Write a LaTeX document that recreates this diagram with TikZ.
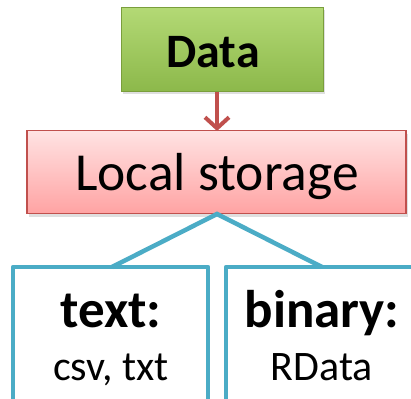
\documentclass[tikz,border=0pt]{standalone}
\usepackage{fontspec}
\setmainfont{Carlito}
\usetikzlibrary{shadows,arrows.meta}
\definecolor{tealline}{HTML}{4BACC6}
\definecolor{greentop}{HTML}{B3D975}
\definecolor{greenbot}{HTML}{8CB84A}
\definecolor{greenedge}{HTML}{7A9E3C}
\definecolor{pinktop}{HTML}{FFE3E3}
\definecolor{pinkbot}{HTML}{FFA3A3}
\definecolor{rededge}{HTML}{C0504D}
\tikzset{
  databox/.style={draw=greenedge, line width=1pt, top color=greentop, bottom color=greenbot,
    minimum width=202pt, minimum height=84pt, inner sep=0pt,
    drop shadow={shadow xshift=2pt, shadow yshift=-2pt, opacity=0.25}},
  storebox/.style={draw=rededge, line width=1.5pt, top color=pinktop, bottom color=pinkbot,
    minimum width=379pt, minimum height=83pt, inner sep=0pt,
    drop shadow={shadow xshift=2pt, shadow yshift=-3pt, opacity=0.25}},
  bigbold/.style={font=\fontsize{48}{56}\selectfont\bfseries, inner sep=0pt},
  bigtext/.style={font=\fontsize{53.5}{60}\selectfont, inner sep=0pt},
  headtext/.style={font=\fontsize{53}{60}\selectfont\bfseries, inner sep=0pt},
  subtext/.style={font=\fontsize{42}{50}\selectfont, inner sep=0pt},
  tealconn/.style={draw=tealline, line width=4.5pt},
  arrowline/.style={draw=rededge, line width=4pt, -{Straight Barb[length=11pt, width=24pt, line width=4pt]}},
}
\begin{document}
\begin{tikzpicture}[x=1pt,y=1pt]
\useasboundingbox (0,0) rectangle (411,-398);
\clip (0,0) rectangle (411,-398);
\fill[white] (0,0) rectangle (411,-398);
% data box
\node[databox] (data) at (222,-50) {};
\node[bigbold, anchor=base] (datalabel) at (213,-68) {Data};
% storage box
\node[storebox] (store) at (216.5,-172) {};
\node[bigtext, anchor=base] (storelabel) at (217,-190) {Local storage};
% arrow
\coordinate (arrtop) at (217,-92);
\coordinate (arrbot) at (217,-131);
\draw[arrowline] (arrtop) -- (arrbot);
% connectors
\coordinate (apex) at (217,-214);
\coordinate (lefttop) at (112,-267);
\coordinate (righttop) at (322,-267);
\draw[tealconn] (lefttop) -- (apex) -- (righttop);
% teal boxes
\coordinate (lbl) at (13,-420);
\coordinate (lbr) at (208,-420);
\coordinate (rbl) at (226,-420);
\coordinate (rbr) at (430,-420);
\draw[tealconn, line join=round] (lbl) |- (lbr |- lefttop) -- (lbr);
\draw[tealconn, line join=round] (rbl) |- (rbr |- righttop);
% labels in boxes
\node[headtext, anchor=base] (texthead) at (111,-327) {text:};
\node[subtext, anchor=base] (textsub) at (111,-380) {csv, txt};
\node[headtext, anchor=base] (binhead) at (322,-327) {binary:};
\node[subtext, anchor=base] (binsub) at (322,-380) {RData};
\end{tikzpicture}
\end{document}
